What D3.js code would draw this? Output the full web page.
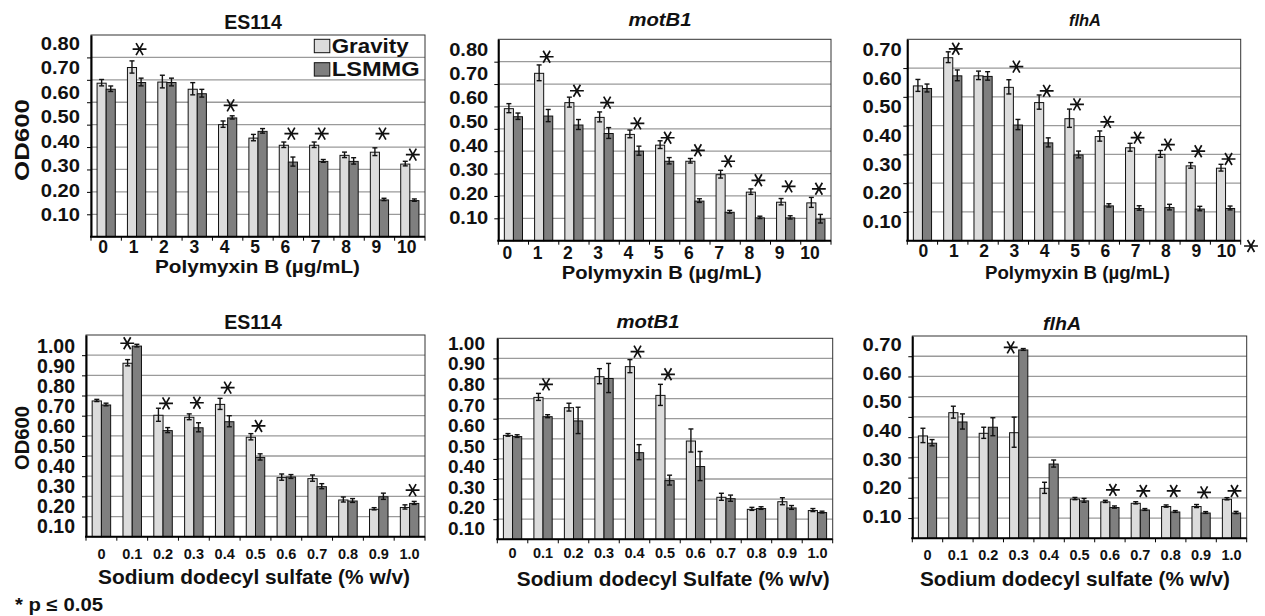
<!DOCTYPE html>
<html>
<head>
<meta charset="utf-8">
<script src="https://cdn.jsdelivr.net/npm/d3@7"></script>
<style>
  body { margin: 0; background: #fff; }
  svg { display: block; }
  text { font-family: "Liberation Sans", Arial, sans-serif; font-weight: bold; fill: #111; }
</style>
</head>
<body>
<svg id="chart" width="1265" height="616"></svg>
<script>
// categories
const pmbDoses = ['0', '1', '2', '3', '4', '5', '6', '7', '8', '9', '10'];
const sdsDoses = ['0', '0.1', '0.2', '0.3', '0.4', '0.5', '0.6', '0.7', '0.8', '0.9', '1.0'];
const seriesNames = ['Gravity', 'LSMMG'];

// tick labels printed on the y axes
const yLabels08 = [0.1, 0.2, 0.3, 0.4, 0.5, 0.6, 0.7, 0.8];
const yLabels07 = [0.1, 0.2, 0.3, 0.4, 0.5, 0.6, 0.7];
const yLabels10 = [0.1, 0.2, 0.3, 0.4, 0.5, 0.6, 0.7, 0.8, 0.9, 1.0];

// ES114, polymyxin B (values read against the gridlines)
const es114PmbGravity    = [0.685, 0.755, 0.690, 0.658, 0.500, 0.440, 0.408, 0.408, 0.363, 0.377, 0.324];
const es114PmbGravityErr = [0.012, 0.025, 0.026, 0.025, 0.012, 0.012, 0.010, 0.010, 0.010, 0.015, 0.008];
const es114PmbLsmmg      = [0.658, 0.688, 0.688, 0.638, 0.530, 0.470, 0.333, 0.336, 0.336, 0.164, 0.161];
const es114PmbLsmmgErr   = [0.010, 0.015, 0.015, 0.015, 0.005, 0.008, 0.018, 0.004, 0.012, 0.003, 0.003];
const es114PmbStars      = [null, 0.837, null, null, 0.586, null, 0.46, 0.46, null, 0.46, 0.366];

// motB1, polymyxin B
const motB1PmbGravity    = [0.590, 0.748, 0.617, 0.551, 0.475, 0.427, 0.355, 0.295, 0.217, 0.172, 0.169];
const motB1PmbGravityErr = [0.018, 0.033, 0.020, 0.020, 0.015, 0.015, 0.008, 0.015, 0.010, 0.012, 0.020];
const motB1PmbLsmmg      = [0.554, 0.557, 0.517, 0.479, 0.400, 0.355, 0.177, 0.127, 0.102, 0.102, 0.096];
const motB1PmbLsmmgErr   = [0.012, 0.025, 0.020, 0.022, 0.018, 0.012, 0.006, 0.004, 0.003, 0.005, 0.017];
const motB1PmbStars      = [null, 0.822, 0.670, 0.617, 0.524, 0.460, 0.404, 0.355, 0.270, 0.243, 0.232];

// flhA, polymyxin B
const flhAPmbGravity    = [0.538, 0.636, 0.573, 0.533, 0.480, 0.424, 0.362, 0.323, 0.300, 0.260, 0.252];
const flhAPmbGravityErr = [0.019, 0.017, 0.013, 0.023, 0.023, 0.030, 0.016, 0.012, 0.010, 0.008, 0.010];
const flhAPmbLsmmg      = [0.529, 0.573, 0.571, 0.402, 0.340, 0.298, 0.121, 0.112, 0.115, 0.110, 0.112];
const flhAPmbLsmmgErr   = [0.012, 0.017, 0.013, 0.016, 0.014, 0.010, 0.004, 0.006, 0.008, 0.006, 0.005];
const flhAPmbStars      = [null, 0.667, null, 0.605, 0.521, 0.474, 0.413, 0.358, 0.334, 0.311, 0.284];

// ES114, SDS
const es114SdsGravity    = [0.673, 0.860, 0.602, 0.592, 0.656, 0.493, 0.293, 0.288, 0.182, 0.136, 0.145];
const es114SdsGravityErr = [0.003, 0.013, 0.030, 0.012, 0.025, 0.013, 0.013, 0.013, 0.010, 0.003, 0.008];
const es114SdsLsmmg      = [0.653, 0.945, 0.526, 0.540, 0.570, 0.393, 0.296, 0.248, 0.177, 0.198, 0.165];
const es114SdsLsmmgErr   = [0.004, 0.004, 0.010, 0.020, 0.025, 0.013, 0.007, 0.010, 0.007, 0.013, 0.005];
const es114SdsStars      = [null, 0.959, 0.661, 0.664, 0.739, 0.549, null, null, null, null, 0.231];

// motB1, SDS
const motB1SdsGravity    = [0.517, 0.706, 0.655, 0.809, 0.859, 0.716, 0.489, 0.209, 0.149, 0.187, 0.143];
const motB1SdsGravityErr = [0.004, 0.015, 0.017, 0.035, 0.030, 0.050, 0.055, 0.015, 0.005, 0.015, 0.005];
const motB1SdsLsmmg      = [0.511, 0.610, 0.589, 0.800, 0.431, 0.292, 0.362, 0.202, 0.153, 0.156, 0.133];
const motB1SdsLsmmgErr   = [0.004, 0.005, 0.063, 0.070, 0.035, 0.022, 0.070, 0.013, 0.004, 0.007, 0.002];
const motB1SdsStars      = [null, 0.771, null, null, 0.934, 0.821, null, null, null, null, null];

// flhA, SDS
const flhASdsGravity    = [0.506, 0.621, 0.519, 0.522, 0.247, 0.194, 0.180, 0.173, 0.157, 0.157, 0.193];
const flhASdsGravityErr = [0.033, 0.027, 0.025, 0.072, 0.025, 0.003, 0.003, 0.003, 0.003, 0.005, 0.003];
const flhASdsLsmmg      = [0.470, 0.575, 0.549, 0.931, 0.367, 0.185, 0.152, 0.140, 0.130, 0.125, 0.125];
const flhASdsLsmmgErr   = [0.013, 0.035, 0.042, 0.002, 0.015, 0.007, 0.003, 0.002, 0.002, 0.002, 0.003];
const flhASdsStars      = [null, null, null, 0.944, null, null, 0.239, 0.234, 0.234, 0.227, 0.234];

const color = d3.scaleOrdinal().domain(seriesNames).range(['#dcdcdc', '#7f7f7f']);

const panels = [
  { cats: pmbDoses, g: es114PmbGravity, ge: es114PmbGravityErr, l: es114PmbLsmmg, le: es114PmbLsmmgErr, stars: es114PmbStars,
    yMax: 0.9, box: [91, 35, 425, 236.7],
    labels: yLabels08, lab: [215, 43.5, 80, 17.5, 1.15],
    xTick: [247, 17.5, -3], title: ['ES114', 253, 22, 19.5, 0, false],
    xTitle: ['Polymyxin B (µg/mL)', 257.5, 267, 18, 205], yTitle: [21.7, 140, 20, 82], legend: true },
  { cats: pmbDoses, g: motB1PmbGravity, ge: motB1PmbGravityErr, l: motB1PmbLsmmg, le: motB1PmbLsmmgErr, stars: motB1PmbStars,
    yMax: 0.9, box: [498.3, 39.3, 831, 240.7],
    labels: yLabels08, lab: [218.3, 50, 488.3, 17.5, 1.15],
    xTick: [252.5, 17.5, -6], title: ['motB1', 660, 20, 18, 63, true],
    xTitle: ['Polymyxin B (µg/mL)', 661.7, 273, 18, 200] },
  { cats: pmbDoses, g: flhAPmbGravity, ge: flhAPmbGravityErr, l: flhAPmbLsmmg, le: flhAPmbLsmmgErr, stars: flhAPmbStars,
    yMax: 0.7, box: [907.3, 39.3, 1240.7, 240.7],
    labels: yLabels07, lab: [221.7, 50, 901.7, 17.5, 1.15],
    xTick: [251, 17.5, 1], title: ['flhA', 1085, 20, 17, 32, true],
    xTitle: ['Polymyxin B (µg/mL)', 1077.5, 273, 18, 185] },
  { cats: sdsDoses, g: es114SdsGravity, ge: es114SdsGravityErr, l: es114SdsLsmmg, le: es114SdsLsmmgErr, stars: es114SdsStars,
    yMax: 1.0, box: [86, 335, 425, 536.7], nudge: { 1: -8 },
    labels: yLabels10, lab: [526.7, 346.7, 75, 19.5, 1],
    xTick: [554, 14.5, 0], title: ['ES114', 253, 322, 19.5, 0, false],
    xTitle: ['Sodium dodecyl sulfate (% w/v)', 254, 577, 20.5, 312], yTitle: [21.7, 438, 20, 64] },
  { cats: sdsDoses, g: motB1SdsGravity, ge: motB1SdsGravityErr, l: motB1SdsLsmmg, le: motB1SdsLsmmgErr, stars: motB1SdsStars,
    yMax: 1.0, box: [497.3, 338.3, 832.7, 539.3],
    labels: yLabels10, lab: [528.3, 343.3, 485, 19, 1],
    xTick: [553, 14.5, 0], title: ['motB1', 648, 322, 18, 63, true],
    xTitle: ['Sodium dodecyl Sulfate (% w/v)', 673.3, 578.5, 20.5, 313] },
  { cats: sdsDoses, g: flhASdsGravity, ge: flhASdsGravityErr, l: flhASdsLsmmg, le: flhASdsLsmmgErr, stars: flhASdsStars,
    yMax: 1.0, box: [912.3, 336, 1246.7, 538.3], nudge: { 3: -11 },
    labels: yLabels07, lab: [516.7, 345, 901.7, 17.5, 1.15],
    xTick: [555, 14.5, 0], title: ['flhA', 1062, 323.5, 18, 38, true],
    xTitle: ['Sodium dodecyl sulfate (% w/v)', 1075, 578.5, 20.5, 310] }
];

const svg = d3.select('#chart');
const star = d3.symbol().type(d3.symbolAsterisk).size(135);

function fit(sel, w) {
  if (w) sel.attr('textLength', w).attr('lengthAdjust', 'spacingAndGlyphs');
  return sel;
}

function drawPanel(p) {
  const [x0, y0, x1, y1] = p.box;
  const w = x1 - x0, h = y1 - y0;
  const g = svg.append('g').attr('transform', `translate(${x0},${y0})`);

  const x = d3.scaleBand().domain(p.cats).range([0, w]).paddingInner(0.4).paddingOuter(0.2);
  const xs = d3.scaleBand().domain(seriesNames).range([0, x.bandwidth()]);
  const y = d3.scaleLinear().domain([0, p.yMax]).range([h, 0]);
  const gridVals = d3.range(1, Math.round(p.yMax * 10)).map(i => i / 10);

  g.append('rect').attr('width', w).attr('height', h).attr('fill', '#fff');
  g.append('g').selectAll('line').data(gridVals).join('line')
    .attr('x1', 0).attr('x2', w)
    .attr('y1', d => y(d)).attr('y2', d => y(d))
    .attr('stroke', '#9a9a9a').attr('stroke-width', 1.3);
  g.append('rect').attr('width', w).attr('height', h)
    .attr('fill', 'none').attr('stroke', '#333').attr('stroke-width', 1);

  const rows = p.cats.flatMap((c, i) => [
    { c, s: 'Gravity', v: p.g[i], e: p.ge[i] },
    { c, s: 'LSMMG', v: p.l[i], e: p.le[i] }
  ]);

  g.append('g').selectAll('rect').data(rows).join('rect')
    .attr('x', d => x(d.c) + xs(d.s))
    .attr('width', xs.bandwidth())
    .attr('y', d => y(d.v))
    .attr('height', d => h - y(d.v))
    .attr('fill', d => color(d.s))
    .attr('stroke', '#111').attr('stroke-width', 1);

  // error bars
  const eb = g.append('g').attr('stroke', '#111').attr('stroke-width', 1.4);
  const cx = d => x(d.c) + xs(d.s) + xs.bandwidth() / 2;
  eb.selectAll('.v').data(rows).join('line')
    .attr('x1', cx).attr('x2', cx)
    .attr('y1', d => y(d.v - d.e)).attr('y2', d => y(d.v + d.e) - 1);
  eb.selectAll('.t').data(rows).join('line')
    .attr('x1', d => cx(d) - 2.5).attr('x2', d => cx(d) + 2.5)
    .attr('y1', d => y(d.v + d.e) - 1).attr('y2', d => y(d.v + d.e) - 1);
  eb.selectAll('.b').data(rows).join('line')
    .attr('x1', d => cx(d) - 2.5).attr('x2', d => cx(d) + 2.5)
    .attr('y1', d => y(d.v - d.e)).attr('y2', d => y(d.v - d.e));

  // significance asterisks
  const sig = p.cats.map((c, i) => ({ c, i, v: p.stars[i] })).filter(d => d.v != null);
  g.append('g').selectAll('path').data(sig).join('path')
    .attr('d', star)
    .attr('transform', d => `translate(${x(d.c) + x.bandwidth() / 2 + 3 + ((p.nudge || {})[d.i] || 0)},${y(d.v)}) rotate(90)`)
    .attr('fill', 'none').attr('stroke', '#111').attr('stroke-width', 1.7);

  // left axis with small ticks at the gridlines
  g.append('g')
    .call(d3.axisLeft(y).tickValues(gridVals).tickSize(4).tickSizeOuter(0).tickFormat(''))
    .call(a => a.select('.domain').attr('stroke', '#000').attr('stroke-width', 2))
    .call(a => a.selectAll('.tick line').attr('stroke', '#000'));

  // bottom axis with ticks between categories
  g.append('line').attr('x1', -1).attr('x2', w).attr('y1', h).attr('y2', h)
    .attr('stroke', '#000').attr('stroke-width', 2);
  g.append('g').selectAll('line').data(d3.range(0, p.cats.length + 1).map(i => i * x.step())).join('line')
    .attr('x1', d => d).attr('x2', d => d).attr('y1', h).attr('y2', h + 4)
    .attr('stroke', '#000').attr('stroke-width', 1);

  // category labels
  const [tickY, tickFont, tickDx] = p.xTick;
  g.append('g').attr('transform', `translate(0,${tickY - y0})`)
    .call(d3.axisBottom(x).tickSize(0))
    .call(a => a.select('.domain').remove())
    .call(a => a.selectAll('text')
      .attr('y', 0).attr('dy', '0.35em').attr('dx', tickDx)
      .attr('font-size', tickFont).attr('fill', '#111')
      .attr('font-family', '"Liberation Sans", Arial, sans-serif').attr('font-weight', 'bold'));

  // printed y tick labels
  const [labLo, labHi, labRight, labFont, labStretch] = p.lab;
  const yLab = d3.scaleLinear()
    .domain([p.labels[0], p.labels[p.labels.length - 1]])
    .range([labLo - y0, labHi - y0]);
  g.append('g').attr('transform', `translate(${labRight - x0},0)`)
    .call(d3.axisLeft(yLab).tickValues(p.labels).tickFormat(d3.format('.2f')).tickSize(0).tickPadding(0))
    .call(a => a.select('.domain').remove())
    .call(a => a.selectAll('text')
      .attr('font-size', labFont).attr('fill', '#111')
      .attr('font-family', '"Liberation Sans", Arial, sans-serif').attr('font-weight', 'bold')
      .each(function () {
        if (labStretch !== 1) fit(d3.select(this), this.getComputedTextLength() * labStretch);
      }));

  // panel title
  const [tt, tx, ty, tf, tw, ital] = p.title;
  fit(svg.append('text').attr('x', tx).attr('y', ty).attr('dy', '0.35em')
    .attr('text-anchor', 'middle').attr('font-size', tf)
    .attr('font-style', ital ? 'italic' : 'normal').text(tt), tw);

  // x axis title
  const [xt, xx, xy, xf, xw] = p.xTitle;
  fit(svg.append('text').attr('x', xx).attr('y', xy).attr('dy', '0.35em')
    .attr('text-anchor', 'middle').attr('font-size', xf).text(xt), xw);

  if (p.yTitle) {
    const [ox, oy, of, ow] = p.yTitle;
    fit(svg.append('text').attr('transform', `translate(${ox},${oy}) rotate(-90)`)
      .attr('dy', '0.35em').attr('text-anchor', 'middle').attr('font-size', of).text('OD600'), ow);
  }

  if (p.legend) {
    const lg = svg.append('g').attr('transform', 'translate(314.3,39.3)');
    const item = lg.selectAll('g').data(seriesNames).join('g')
      .attr('transform', (d, i) => `translate(0,${i * 23.4})`);
    item.append('rect').attr('width', 15.5).attr('height', 13.4)
      .attr('fill', d => color(d)).attr('stroke', '#111').attr('stroke-width', 1);
    item.append('text').attr('x', 17.4).attr('y', 13.4).attr('font-size', 20.5)
      .text(d => d)
      .each(function (d) { fit(d3.select(this), d === 'Gravity' ? 77 : 88); });
  }
}

panels.forEach(drawPanel);

// stray asterisk printed after the last flhA polymyxin label
svg.append('path').attr('d', star)
  .attr('transform', 'translate(1251,246) rotate(90)')
  .attr('fill', 'none').attr('stroke', '#111').attr('stroke-width', 1.7);

fit(svg.append('text').attr('x', 15).attr('y', 605).attr('dy', '0.35em')
  .attr('font-size', 18).text('* p ≤ 0.05'), 88);
</script>
</body>
</html>
